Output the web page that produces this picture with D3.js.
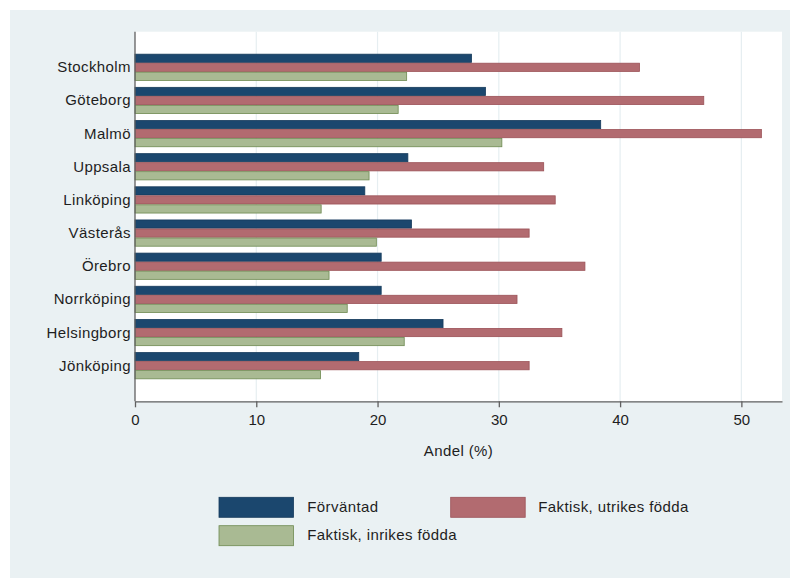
<!DOCTYPE html>
<html>
<head>
<meta charset="utf-8">
<script src="https://cdn.jsdelivr.net/npm/d3@7"></script>
<style>
  html, body { margin: 0; padding: 0; background: #ffffff; }
  svg { display: block; }
  text { font-family: "Liberation Sans", Arial, sans-serif; fill: #1e1e1e; }
</style>
</head>
<body>
<svg id="chart" width="790" height="578"></svg>
<script>
const categories = ["Stockholm", "Göteborg", "Malmö", "Uppsala", "Linköping", "Västerås", "Örebro", "Norrköping", "Helsingborg", "Jönköping"];
const seriesNames = ["Förväntad", "Faktisk, utrikes födda", "Faktisk, inrikes födda"];
const forvantad = [27.75, 28.9, 38.4, 22.5, 18.95, 22.8, 20.3, 20.3, 25.4, 18.45];
const utrikes   = [41.6, 46.9, 51.65, 33.7, 34.65, 32.5, 37.1, 31.5, 35.2, 32.5];
const inrikes   = [22.4, 21.7, 30.25, 19.3, 15.35, 19.9, 16.0, 17.5, 22.2, 15.3];
const xTicks = [0, 10, 20, 30, 40, 50];
const xTitle = "Andel (%)";

const seriesValues = [forvantad, utrikes, inrikes];
const fills   = ["#1b476e", "#b26b70", "#a9ba93"];
const strokes = ["#163b5c", "#9b5257", "#6e8a51"];

const svg = d3.select("#chart");

// outer background
svg.append("rect").attr("x", 10).attr("y", 10).attr("width", 780).attr("height", 568).attr("fill", "#eaf1f3");

const plot = { left: 135, right: 782, top: 31.7, bottom: 401.3 };
svg.append("rect").attr("x", plot.left).attr("y", plot.top)
  .attr("width", plot.right - plot.left).attr("height", plot.bottom - plot.top)
  .attr("fill", "#ffffff");

const x = d3.scaleLinear().domain([0, 53.35]).range([plot.left, plot.right]);
const y = d3.scaleBand().domain(categories).range([plot.top, plot.bottom])
  .paddingInner(0.184).paddingOuter(0.666);
const sub = d3.scaleBand().domain(d3.range(3)).range([0, y.bandwidth()]);

// gridlines
svg.append("g").selectAll("line").data(xTicks.filter(d => d > 0)).join("line")
  .attr("x1", d => x(d)).attr("x2", d => x(d))
  .attr("y1", plot.top).attr("y2", plot.bottom)
  .attr("stroke", "#e6eef1").attr("stroke-width", 1.2);

// bars
const data = [];
categories.forEach((c, i) => {
  seriesValues.forEach((vals, s) => data.push({ c, s, v: vals[i] }));
});
svg.append("g").selectAll("rect").data(data).join("rect")
  .attr("x", x(0))
  .attr("y", d => y(d.c) + sub(d.s) + 0.4)
  .attr("width", d => x(d.v) - x(0))
  .attr("height", sub.bandwidth() - 0.8)
  .attr("fill", d => fills[d.s])
  .attr("stroke", d => strokes[d.s])
  .attr("stroke-width", 0.8);

// category labels
svg.append("g").selectAll("text").data(categories).join("text")
  .attr("x", plot.left - 4)
  .attr("y", d => y(d) + y.bandwidth() / 2 + 1)
  .attr("text-anchor", "end")
  .attr("dominant-baseline", "middle")
  .attr("font-size", 15)
  .attr("letter-spacing", 0.4)
  .text(d => d);

// x axis
const xAxis = d3.axisBottom(x).tickValues(xTicks).tickSize(6).tickPadding(7).tickSizeOuter(0);
const gx = svg.append("g").attr("transform", `translate(0,${plot.bottom})`).call(xAxis);
gx.select(".domain").attr("stroke", "#606060").attr("stroke-width", 1.3);
gx.selectAll(".tick line").attr("stroke", "#606060").attr("stroke-width", 1.3);
gx.selectAll(".tick text").attr("font-size", 15).attr("fill", "#1e1e1e")
  .attr("font-family", "Liberation Sans, Arial, sans-serif");

// y axis line
svg.append("line").attr("x1", plot.left).attr("x2", plot.left)
  .attr("y1", plot.top).attr("y2", plot.bottom)
  .attr("stroke", "#606060").attr("stroke-width", 1.3);

// x title
svg.append("text").attr("x", (plot.left + plot.right) / 2).attr("y", 456)
  .attr("text-anchor", "middle").attr("font-size", 15).attr("letter-spacing", 0.4)
  .text(xTitle);

// legend
const legendPos = [
  { bx: 219, by: 497.3, tx: 307.3 },
  { bx: 450.7, by: 497.3, tx: 538.3 },
  { bx: 219, by: 525.7, tx: 307.3 }
];
const lg = svg.append("g").selectAll("g").data(seriesNames).join("g");
lg.append("rect")
  .attr("x", (d, i) => legendPos[i].bx).attr("y", (d, i) => legendPos[i].by)
  .attr("width", 74.5).attr("height", 20)
  .attr("fill", (d, i) => fills[i]).attr("stroke", (d, i) => strokes[i]).attr("stroke-width", 0.8);
lg.append("text")
  .attr("x", (d, i) => legendPos[i].tx).attr("y", (d, i) => legendPos[i].by + 10.5)
  .attr("dominant-baseline", "middle")
  .attr("font-size", 15).attr("letter-spacing", 0.4)
  .text(d => d);
</script>
</body>
</html>
